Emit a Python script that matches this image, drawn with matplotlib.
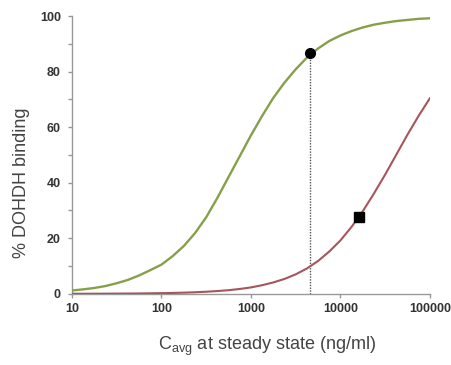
import matplotlib
matplotlib.use("Agg")
import matplotlib.pyplot as plt

plt.rcParams['font.family'] = ['Liberation Sans', 'DejaVu Sans']

# concentrations (ng/ml), eighth-decade steps from 10 to 100000
conc = [10, 13.3, 17.8, 23.7, 31.6, 42.2, 56.2, 75, 100, 133, 178, 237,
        316, 422, 562, 750, 1000, 1334, 1778, 2371, 3162, 4217, 5623, 7499,
        10000, 13335, 17783, 23714, 31623, 42170, 56234, 74989, 100000]
# green curve, % binding
green_pct = [1.2, 1.6, 2.1, 2.8, 3.8, 5.0, 6.6, 8.5, 10.5, 13.5, 17.2, 21.8,
             27.5, 34.5, 42, 49.5, 57, 64, 70.5, 76, 80.8, 85, 88.3, 91,
             93, 94.6, 95.9, 96.9, 97.6, 98.2, 98.6, 99.0, 99.2]
# red curve, % binding
red_pct = [0.02, 0.03, 0.04, 0.06, 0.08, 0.1, 0.13, 0.18, 0.24, 0.32, 0.42, 0.56,
           0.75, 1.0, 1.3, 1.75, 2.3, 3.1, 4.1, 5.35, 7.0, 9.1, 11.8, 15.2,
           19.2, 24.1, 29.7, 36.1, 42.9, 50.1, 57.3, 64.1, 70.4]

# marked points
circle_x, circle_y = 4600, 86.7
square_x, square_y = 16200, 27.8

xticks = [10, 100, 1000, 10000, 100000]
xticklabels = ['10', '100', '1000', '10000', '100000']
yticks = [0, 20, 40, 60, 80, 100]

fig = plt.figure(figsize=(4.52, 3.65), dpi=100)
ax = fig.add_axes([0.159, 0.195, 0.792, 0.761])

ax.plot(conc, red_pct, color='#a8545c', lw=1.5, zorder=3)
ax.plot(conc, green_pct, color='#86a04a', lw=1.7, zorder=3)
ax.plot([circle_x, circle_x], [0, circle_y], color='#555555', lw=1.0,
        ls=(0, (1, 1)), zorder=2)
ax.plot(circle_x, circle_y, 'o', color='black', ms=7, zorder=4)
ax.plot(square_x, square_y, 's', color='black', ms=7, zorder=4)

ax.set_xscale('log')
ax.set_xlim(10, 100000)
ax.set_ylim(0, 100)
ax.set_xticks(xticks)
ax.set_xticklabels(xticklabels)
ax.set_yticks(yticks)
ax.set_yticks(range(0, 101, 10), minor=True)
ax.xaxis.set_minor_locator(matplotlib.ticker.NullLocator())

for s in ['top', 'right']:
    ax.spines[s].set_visible(False)
for s in ['left', 'bottom']:
    ax.spines[s].set_color('#999999')
    ax.spines[s].set_linewidth(1.0)
ax.tick_params(which='both', color='#999999', length=3, width=1,
               labelsize=9, labelcolor='#333333')
ax.tick_params(axis='y', pad=5)
for lab in ax.get_xticklabels() + ax.get_yticklabels():
    lab.set_fontweight('bold')

ax.set_ylabel('% DOHDH binding', fontsize=13, color='#444444')
ax.set_xlabel('C$_{\\mathregular{avg}}$ at steady state (ng/ml)', fontsize=13,
              color='#444444')
ax.yaxis.set_label_coords(-0.141, 0.40)
ax.yaxis.label.set_va('center')
ax.xaxis.set_label_coords(0.545, -0.191)
ax.xaxis.label.set_va('center')

fig.savefig('out.png', dpi=100)
